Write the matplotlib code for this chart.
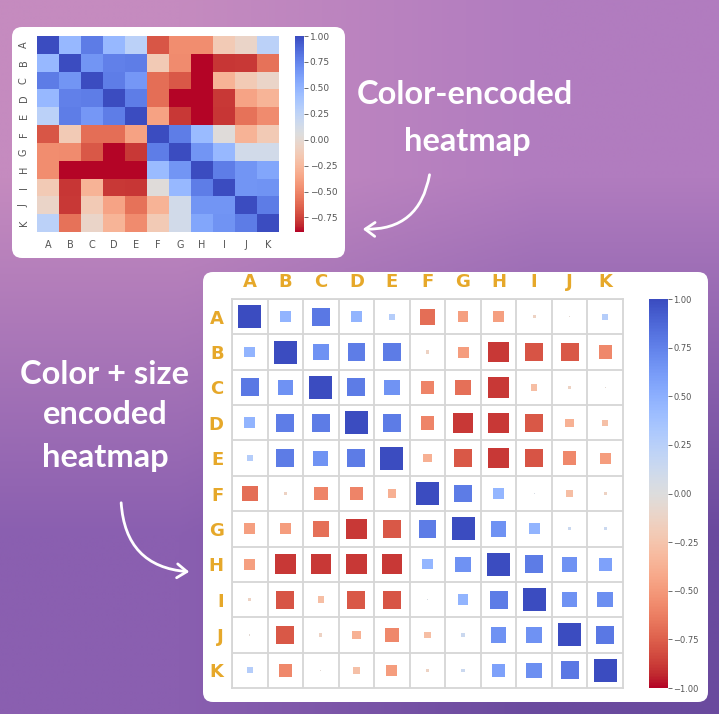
import numpy as np
import matplotlib.pyplot as plt
from matplotlib.patches import FancyBboxPatch, FancyArrowPatch
from matplotlib.colors import Normalize
import matplotlib.cm as cm

# Data
labels = ['A', 'B', 'C', 'D', 'E', 'F', 'G', 'H', 'I', 'J', 'K']
corr = [
    [1.00, 0.47, 0.79, 0.47, 0.27, -0.69, -0.47, -0.47, -0.14, -0.05, 0.27],
    [0.47, 1.00, 0.67, 0.77, 0.78, -0.14, -0.48, -0.89, -0.79, -0.78, -0.58],
    [0.79, 0.67, 1.00, 0.78, 0.66, -0.60, -0.68, -0.89, -0.29, -0.14, -0.05],
    [0.47, 0.77, 0.78, 1.00, 0.78, -0.60, -0.89, -0.89, -0.78, -0.37, -0.28],
    [0.27, 0.78, 0.66, 0.78, 1.00, -0.38, -0.78, -0.89, -0.79, -0.58, -0.48],
    [-0.69, -0.14, -0.60, -0.60, -0.38, 1.00, 0.78, 0.46, 0.04, -0.29, -0.14],
    [-0.47, -0.48, -0.68, -0.89, -0.78, 0.78, 1.00, 0.67, 0.47, 0.14, 0.14],
    [-0.47, -0.89, -0.89, -0.89, -0.89, 0.46, 0.67, 1.00, 0.78, 0.67, 0.58],
    [-0.14, -0.79, -0.29, -0.78, -0.79, 0.04, 0.47, 0.78, 1.00, 0.67, 0.68],
    [-0.05, -0.78, -0.14, -0.37, -0.58, -0.29, 0.14, 0.67, 0.67, 1.00, 0.79],
    [0.27, -0.58, -0.05, -0.28, -0.48, -0.14, 0.14, 0.58, 0.68, 0.79, 1.00],
]
top_ticks = [1.0, 0.75, 0.5, 0.25, 0.0, -0.25, -0.5, -0.75]
bottom_ticks = [1.0, 0.75, 0.5, 0.25, 0.0, -0.25, -0.5, -0.75, -1.0]

C = np.array(corr)
n = len(labels)
W, H = 719, 714
fig = plt.figure(figsize=(W / 100, H / 100), dpi=100)


def px_axes(x0, y0, x1, y1):
    return fig.add_axes([x0 / W, 1 - y1 / H, (x1 - x0) / W, (y1 - y0) / H])


# background
bg = fig.add_axes([0, 0, 1, 1])
grad = np.array([[[197, 139, 191], [177, 124, 191]],
                 [[138, 95, 176], [106, 74, 158]]]) / 255.0
bg.imshow(grad, extent=[0, W, H, 0], interpolation='bilinear', aspect='auto')
bg.set_xlim(0, W)
bg.set_ylim(H, 0)
bg.axis('off')

bg.add_patch(FancyBboxPatch((12, 27), 333, 231, boxstyle="round,pad=0,rounding_size=10",
                            fc='white', ec='none'))
bg.add_patch(FancyBboxPatch((203, 272), 505, 430, boxstyle="round,pad=0,rounding_size=10",
                            fc='white', ec='none'))

tfont = dict(color='white', fontsize=23.5, fontweight='bold', family='Lato',
             ha='center', va='center')
bg.text(465, 95, 'Color-encoded', **tfont)
bg.text(467, 142, 'heatmap', **tfont)
bg.text(105, 375, 'Color + size', **tfont)
bg.text(105, 415, 'encoded', **tfont)
bg.text(105, 457, 'heatmap', **tfont)

bg.add_patch(FancyArrowPatch((430, 172), (360, 229), connectionstyle="arc3,rad=-0.45",
                             arrowstyle='->,head_length=7,head_width=5', color='white', lw=2))
bg.add_patch(FancyArrowPatch((121, 500), (192, 572), connectionstyle="arc3,rad=0.45",
                             arrowstyle='->,head_length=7,head_width=5', color='white', lw=2))

cmap = plt.get_cmap('coolwarm_r')

# top heatmap
ax1 = px_axes(37, 36, 279, 232)
norm1 = Normalize(vmin=C.min(), vmax=1.0)
ax1.pcolormesh(np.arange(n + 1), np.arange(n + 1), C, cmap=cmap, norm=norm1)
ax1.set_xlim(0, n)
ax1.set_ylim(n, 0)
ax1.set_xticks(np.arange(n) + 0.5)
ax1.set_xticklabels(labels, fontsize=7, color='#555555')
ax1.set_yticks(np.arange(n) + 0.5)
ax1.set_yticklabels(labels, fontsize=7, color='#555555', rotation=90, va='center')
ax1.tick_params(length=0, pad=6)
for s in ax1.spines.values():
    s.set_visible(False)

cax1 = px_axes(295, 36, 304, 232)
cb1 = fig.colorbar(cm.ScalarMappable(norm=norm1, cmap=cmap), cax=cax1, ticks=top_ticks)
cb1.outline.set_visible(False)
cb1.ax.tick_params(labelsize=6.5, colors='#555555', length=3, width=0.6, pad=1)

# bottom size heatmap
ax2 = px_axes(232, 299, 623, 688)
norm2 = Normalize(vmin=-1, vmax=1)
xs, ys = np.meshgrid(np.arange(n), np.arange(n))
vals = C.flatten()
ax2.scatter(xs.flatten(), ys.flatten(), s=(16.5 * np.abs(vals)) ** 2, c=vals,
            cmap=cmap, norm=norm2, marker='s', linewidths=0, zorder=3)
ax2.set_xlim(-0.5, n - 0.5)
ax2.set_ylim(n - 0.5, -0.5)
ax2.set_xticks(np.arange(n) - 0.5, minor=True)
ax2.set_yticks(np.arange(n) - 0.5, minor=True)
ax2.grid(which='minor', color='#d6d6d6', lw=1.3)
ax2.set_xticks(np.arange(n))
ax2.set_yticks(np.arange(n))
ax2.set_xticklabels(labels)
ax2.set_yticklabels(labels)
ax2.xaxis.tick_top()
ax2.tick_params(which='both', length=0, labelsize=13, labelcolor='#e6a82a', pad=6)
for lab in ax2.get_xticklabels() + ax2.get_yticklabels():
    lab.set_fontweight('bold')
for s in ax2.spines.values():
    s.set_color('#d6d6d6')
    s.set_linewidth(1.3)

cax2 = px_axes(649, 299, 668, 688)
cb2 = fig.colorbar(cm.ScalarMappable(norm=norm2, cmap=cmap), cax=cax2, ticks=bottom_ticks)
cb2.outline.set_visible(False)
cb2.ax.tick_params(labelsize=6, colors='#555555', length=3, width=0.6, pad=1)

fig.savefig('out.png', dpi=100)
